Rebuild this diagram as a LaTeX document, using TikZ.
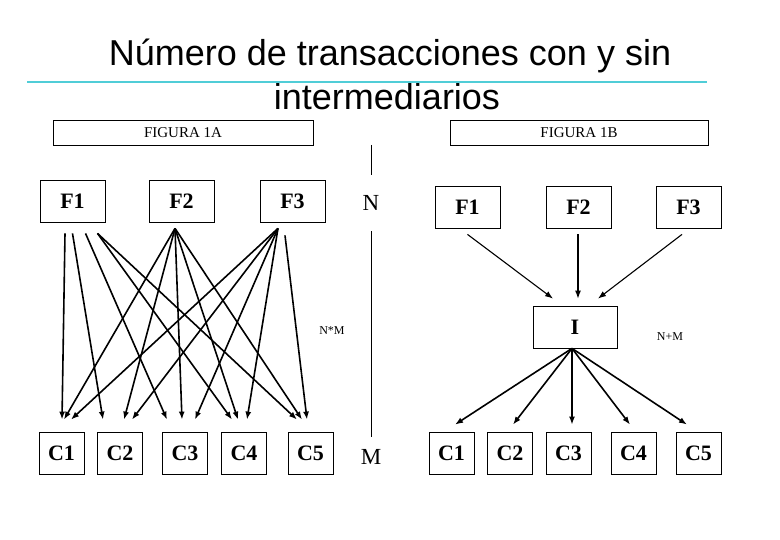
\documentclass[tikz,border=0pt]{standalone}
\usepackage{fontspec}
\setmainfont{Liberation Serif}
\newfontfamily\titlefont{Liberation Sans}
\usetikzlibrary{arrows.meta,positioning}
\definecolor{rulecyan}{RGB}{80,205,215}
\tikzset{
  firm/.style={draw=black, line width=0.8pt, minimum width=65pt, minimum height=42pt, inner sep=0pt, font=\fontsize{22}{26}\selectfont\bfseries},
  client/.style={firm, minimum width=45pt},
  middleman/.style={firm, minimum width=84pt},
  figlabel/.style={draw=black, line width=0.8pt, minimum width=260pt, minimum height=25pt, inner sep=0pt, font=\fontsize{15}{18}\selectfont},
  titletext/.style={anchor=base, inner sep=0pt, font=\titlefont\fontsize{36}{42}\selectfont},
  count/.style={font=\fontsize{12}{14}\selectfont, inner sep=0pt},
  dim/.style={font=\fontsize{23}{26}\selectfont, inner sep=0pt},
  arrow/.style={-{Latex[length=8pt,width=6pt]}, line width=1.6pt},
  thinarrow/.style={-{Latex[length=8pt,width=6pt]}, line width=1.1pt}
}

\begin{document}
\begin{tikzpicture}[x=1pt,y=-1pt]
  \useasboundingbox (0,0) rectangle (780,540);
  % title
  \node[titletext] (title1) at (390,66) {Número de transacciones con y sin};
  \node[titletext] (title2) at (387,110) {intermediarios};
  \draw[rulecyan, line width=1.3pt] (27,82) -- (707,82);
  \node[figlabel] (figA) at (183,132.5) {FIGURA 1A};
  \node[figlabel, minimum width=258pt] (figB) at (579,132.5) {FIGURA 1B};

  % figura 1A: sin intermediarios
  \node[firm] (F1) at (72.5,201) {F1};
  \node[firm] (F2) at (181.5,201) {F2};
  \node[firm] (F3) at (292.5,201) {F3};
  \node[client] (C1) at (61.5,453) {C1};
  \node[client] (C2) at (120,453) {C2};
  \node[client] (C3) at (185,453) {C3};
  \node[client] (C4) at (244,453) {C4};
  \node[client] (C5) at (310.5,453) {C5};
  \draw[arrow] ([xshift=-7.5pt,yshift=-11pt]F1.south) -- ([xshift=0.5pt,yshift=12pt]C1.north);
  \draw[arrow] ([xshift=0pt,yshift=-11pt]F1.south) -- ([xshift=-17pt,yshift=12pt]C2.north);
  \draw[arrow] ([xshift=13pt,yshift=-11pt]F1.south) -- ([xshift=-18pt,yshift=12pt]C3.north);
  \draw[arrow] ([xshift=25pt,yshift=-11pt]F1.south) -- ([xshift=-12pt,yshift=12pt]C4.north);
  \draw[arrow] ([xshift=25pt,yshift=-11pt]F1.south) -- ([xshift=-13.5pt,yshift=12pt]C5.north);
  \draw[arrow] ([xshift=-6.5pt,yshift=-6pt]F2.south) -- ([xshift=2.5pt,yshift=12pt]C1.north);
  \draw[arrow] ([xshift=-6.5pt,yshift=-6pt]F2.south) -- ([xshift=4pt,yshift=12pt]C2.north);
  \draw[arrow] ([xshift=-6.5pt,yshift=-6pt]F2.south) -- ([xshift=-3pt,yshift=12pt]C3.north);
  \draw[arrow] ([xshift=-6.5pt,yshift=-6pt]F2.south) -- ([xshift=-6pt,yshift=12pt]C4.north);
  \draw[arrow] ([xshift=-6.5pt,yshift=-6pt]F2.south) -- ([xshift=-8.5pt,yshift=12pt]C5.north);
  \draw[arrow] ([xshift=-14.5pt,yshift=-6pt]F3.south) -- ([xshift=9.5pt,yshift=12pt]C1.north);
  \draw[arrow] ([xshift=-14.5pt,yshift=-6pt]F3.south) -- ([xshift=12pt,yshift=12pt]C2.north);
  \draw[arrow] ([xshift=-14.5pt,yshift=-6pt]F3.south) -- ([xshift=10pt,yshift=12pt]C3.north);
  \draw[arrow] ([xshift=-14.5pt,yshift=-6pt]F3.south) -- ([xshift=3pt,yshift=12pt]C4.north);
  \draw[arrow] ([xshift=-7.5pt,yshift=-13pt]F3.south) -- ([xshift=-3.5pt,yshift=12pt]C5.north);
  \node[count] (nm) at (332,331) {N*M};

  % divider
  \coordinate (divtop) at (371,145);
  \node[dim, minimum height=56pt] (N) at (371,203) {N};
  \node[dim, minimum height=40pt] (M) at (371,457) {M};
  \draw[line width=0.8pt] (divtop) -- (N);
  \draw[line width=0.8pt] (N) -- (M);

  % figura 1B: con intermediario
  \node[firm] (F1b) at (467.5,207) {F1};
  \node[firm] (F2b) at (578.5,207) {F2};
  \node[firm] (F3b) at (688.5,207) {F3};
  \node[middleman] (I) at (575,327) {I};
  \node[client] (C1b) at (451.5,453) {C1};
  \node[client] (C2b) at (510,453) {C2};
  \node[client] (C3b) at (568.5,453) {C3};
  \node[client] (C4b) at (633.5,453) {C4};
  \node[client] (C5b) at (698.5,453) {C5};
  \draw[thinarrow] ([yshift=-6pt]F1b.south) -- ([xshift=-22pt,yshift=7pt]I.north);
  \draw[thinarrow] ([xshift=-0.5pt,yshift=-6pt]F2b.south) -- ([xshift=3pt,yshift=7pt]I.north);
  \draw[thinarrow] ([xshift=-6.5pt,yshift=-6pt]F3b.south) -- ([xshift=23pt,yshift=7pt]I.north);
  \draw[arrow] ([xshift=-3pt]I.south) -- ([xshift=3.5pt,yshift=7pt]C1b.north);
  \draw[arrow] ([xshift=-3pt]I.south) -- ([xshift=3pt,yshift=7pt]C2b.north);
  \draw[arrow] ([xshift=-3pt]I.south) -- ([xshift=3.5pt,yshift=7pt]C3b.north);
  \draw[arrow] ([xshift=-3pt]I.south) -- ([xshift=-3.5pt,yshift=7pt]C4b.north);
  \draw[arrow] ([xshift=-3pt]I.south) -- ([xshift=-11.5pt,yshift=7pt]C5b.north);
  \node[count] (npm) at (670,337) {N+M};
\end{tikzpicture}
\end{document}
